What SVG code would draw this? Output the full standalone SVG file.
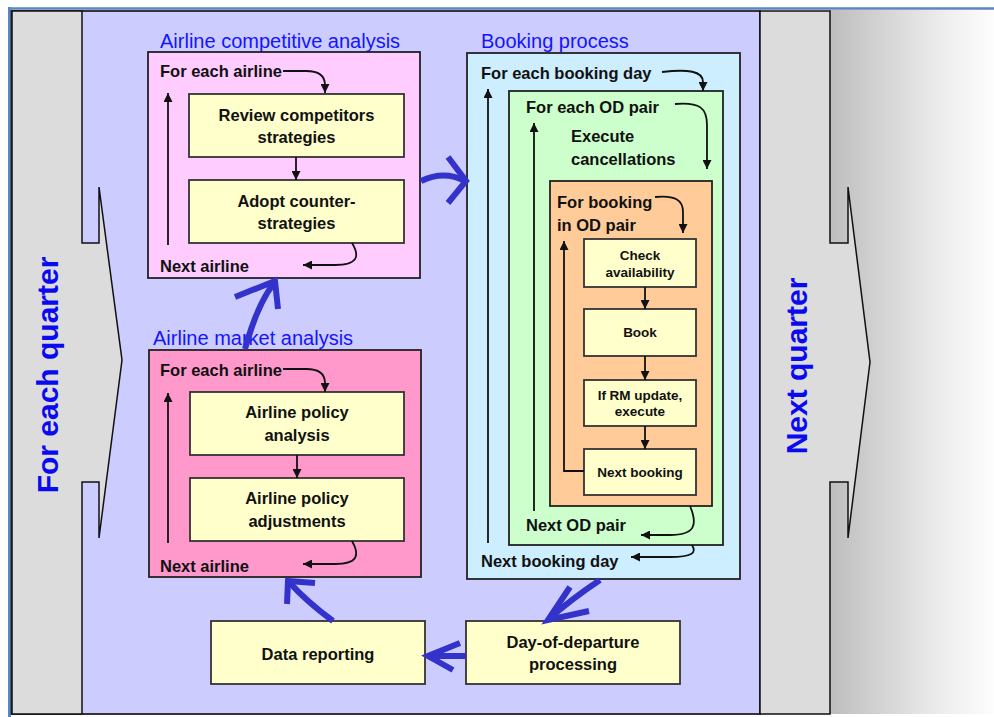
<svg xmlns="http://www.w3.org/2000/svg" width="994" height="717" viewBox="0 0 994 717">
  <style>
    text { font-family: "Liberation Sans", Arial, sans-serif; }
    .title { font-size: 20px; fill: #1414ff; }
    .lbl { font-size: 16.5px; font-weight: bold; fill: #111; }
    .box-t { font-size: 16.5px; font-weight: bold; fill: #111; text-anchor: middle; }
    .small-t { font-size: 13.5px; font-weight: bold; fill: #111; text-anchor: middle; }
    .quarter { font-size: 30px; font-weight: bold; fill: #0a0af0; text-anchor: middle; }
    .frame { stroke: #222; stroke-width: 1.8; }
    .step { fill: #ffffcc; stroke: #333; stroke-width: 1.8; }
    .loop { fill: none; stroke: #111; stroke-width: 1.8; marker-end: url(#tip); }
    .flow { fill: none; stroke: #3333cc; stroke-width: 6; stroke-linejoin: miter; }
  </style>
  <defs>
    <marker id="tip" viewBox="0 0 10 10" refX="10" refY="5" markerWidth="10" markerHeight="9" markerUnits="userSpaceOnUse" orient="auto">
      <path d="M0,0 L10,5 L0,10 z" fill="#111"/>
    </marker>
    <linearGradient id="fade" x1="0" y1="0" x2="1" y2="0">
      <stop offset="0" stop-color="#bdbdbd"/>
      <stop offset="0.35" stop-color="#d6d6d6"/>
      <stop offset="0.7" stop-color="#eeeeee"/>
      <stop offset="1" stop-color="#fdfdfd"/>
    </linearGradient>
  </defs>

  <!-- page background and frame -->
  <rect x="0" y="0" width="994" height="717" fill="#ffffff"/>
  <line x1="8" y1="8.5" x2="994" y2="8.5" stroke="#5b86c4" stroke-width="2.5"/>
  <line x1="9.5" y1="7" x2="9.5" y2="717" stroke="#5b86c4" stroke-width="3"/>
  <rect x="830" y="10" width="164" height="704" fill="url(#fade)"/>
  <rect x="11.5" y="11" width="748.5" height="703" fill="#ccccff" class="frame"/>

  <!-- quarter bands -->
  <g id="for-each-quarter">
    <polygon points="12,11 82,11 82,243 99,243 99,187 122,360 99,538 99,482 82,482 82,714 12,714" fill="#dcdcdc" stroke="#111" stroke-width="1.5"/>
    <text class="quarter" transform="translate(58,375) rotate(-90)">For each quarter</text>
  </g>
  <g id="next-quarter">
    <polygon points="760,11 830,11 830,243 848,243 848,187 870,362 848,538 848,482 830,482 830,714 760,714" fill="#dcdcdc" stroke="#111" stroke-width="1.5"/>
    <text class="quarter" transform="translate(807,366) rotate(-90)">Next quarter</text>
  </g>

  <!-- competitive analysis -->
  <g id="competitive-analysis">
    <text class="title" x="160" y="48">Airline competitive analysis</text>
    <rect x="148" y="52" width="272" height="226" fill="#ffccff" class="frame"/>
    <text class="lbl" x="160" y="77">For each airline</text>
    <text class="lbl" x="160" y="272">Next airline</text>
  </g>
  <g id="review-competitors">
    <rect class="step" x="189" y="94" width="215" height="63"/>
    <text class="box-t" x="296.5" y="121">Review competitors</text>
    <text class="box-t" x="296.5" y="143">strategies</text>
  </g>
  <g id="adopt-counter">
    <rect class="step" x="189" y="180" width="215" height="63"/>
    <text class="box-t" x="296.5" y="207">Adopt counter-</text>
    <text class="box-t" x="296.5" y="229">strategies</text>
  </g>

  <!-- market analysis -->
  <g id="market-analysis">
    <text class="title" x="153" y="345">Airline market analysis</text>
    <rect x="149" y="350" width="272" height="227" fill="#ff99cc" class="frame"/>
    <text class="lbl" x="160" y="376">For each airline</text>
    <text class="lbl" x="160" y="572">Next airline</text>
  </g>
  <g id="policy-analysis">
    <rect class="step" x="190" y="392" width="214" height="63"/>
    <text class="box-t" x="297" y="418">Airline policy</text>
    <text class="box-t" x="297" y="441">analysis</text>
  </g>
  <g id="policy-adjustments">
    <rect class="step" x="190" y="478" width="214" height="63"/>
    <text class="box-t" x="297" y="504">Airline policy</text>
    <text class="box-t" x="297" y="527">adjustments</text>
  </g>

  <!-- booking process -->
  <g id="booking-process">
    <text class="title" x="481" y="48">Booking process</text>
    <rect x="467" y="53" width="273" height="526" fill="#cceeff" class="frame"/>
    <text class="lbl" x="481" y="79">For each booking day</text>
    <text class="lbl" x="481" y="567">Next booking day</text>
  </g>
  <g id="od-pair-loop">
    <rect x="509" y="91" width="214" height="454" fill="#ccffcc" class="frame"/>
    <text class="lbl" x="526" y="113">For each OD pair</text>
    <text class="lbl" x="571" y="142">Execute</text>
    <text class="lbl" x="571" y="165">cancellations</text>
    <text class="lbl" x="526" y="531">Next OD pair</text>
  </g>
  <g id="booking-loop">
    <rect x="550" y="181" width="162" height="325" fill="#ffcc99" class="frame"/>
    <text class="lbl" x="557" y="208">For booking</text>
    <text class="lbl" x="557" y="231">in OD pair</text>
  </g>
  <g id="check-availability">
    <rect class="step" x="584" y="239" width="112" height="48"/>
    <text class="small-t" x="640" y="260">Check</text>
    <text class="small-t" x="640" y="277">availability</text>
  </g>
  <g id="book">
    <rect class="step" x="584" y="309" width="112" height="47"/>
    <text class="small-t" x="640" y="337">Book</text>
  </g>
  <g id="rm-update">
    <rect class="step" x="584" y="380" width="112" height="46"/>
    <text class="small-t" x="640" y="400">If RM update,</text>
    <text class="small-t" x="640" y="416">execute</text>
  </g>
  <g id="next-booking">
    <rect class="step" x="584" y="449" width="112" height="46"/>
    <text class="small-t" x="640" y="477">Next booking</text>
  </g>

  <!-- reporting steps -->
  <g id="data-reporting">
    <rect class="step" x="211" y="621" width="214" height="63"/>
    <text class="box-t" x="318" y="660">Data reporting</text>
  </g>
  <g id="day-of-departure">
    <rect class="step" x="466" y="621" width="214" height="63"/>
    <text class="box-t" x="573" y="648">Day-of-departure</text>
    <text class="box-t" x="573" y="670">processing</text>
  </g>

  <!-- connectors -->
  <g id="connectors">
    <!-- competitive loop -->
    <path class="loop" d="M283,71 L306,71 C320,71 325,77 325,85 L325,93"/>
    <path class="loop" d="M168,245 L168,93"/>
    <path class="loop" d="M296,157 L296,180"/>
    <path class="loop" d="M352,243 C360,256 358,265 335,265 L303,265"/>
    <!-- market loop -->
    <path class="loop" d="M283,369 L306,369 C320,369 325,375 325,383 L325,392"/>
    <path class="loop" d="M168,543 L168,393"/>
    <path class="loop" d="M297,455 L297,478"/>
    <path class="loop" d="M352,541 C360,555 358,564 335,564 L303,564"/>
    <!-- booking loops -->
    <path class="loop" d="M662,72 C688,69 703,71 703,82 L703,91"/>
    <path class="loop" d="M488,543 L488,89"/>
    <path class="loop" d="M675,104 C700,102 707,108 707,125 L707,169"/>
    <path class="loop" d="M534,511 L534,123"/>
    <path class="loop" d="M655,197 C675,195 683,200 683,212 L683,233"/>
    <path class="loop" d="M584,471 L564,471 L564,241"/>
    <path class="loop" d="M645,287 L645,309"/>
    <path class="loop" d="M645,356 L645,380"/>
    <path class="loop" d="M645,426 L645,449"/>
    <path class="loop" d="M690,506 C698,525 695,535 670,535 L641,535"/>
    <path class="loop" d="M692,545 C697,553 692,557 670,557 L631,557"/>
    <!-- quarter flow -->
    <path class="flow" d="M421,181 Q444,170 465,181"/>
    <polyline class="flow" points="448,157 466,181 448,203"/>
    <path class="flow" d="M245,349 Q257,305 274,283"/>
    <polyline class="flow" points="235,297 275,281 278,309"/>
    <path class="flow" d="M333,621 Q306,601 290,583"/>
    <polyline class="flow" points="287,604 288,581 315,583"/>
    <path class="flow" d="M466,656 L428,656"/>
    <polyline class="flow" points="460,643 428,656 453,670"/>
    <path class="flow" d="M600,580 Q570,600 549,619"/>
    <polyline class="flow" points="570,587 548,620 589,611"/>
  </g>
</svg>
